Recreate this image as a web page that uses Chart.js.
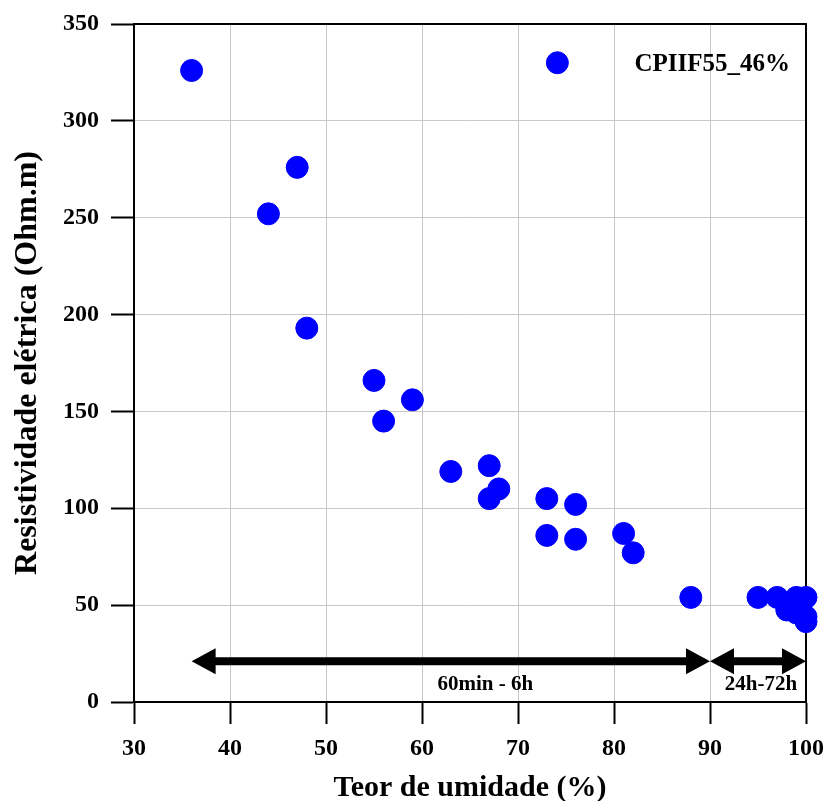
<!DOCTYPE html>
<html>
<head>
<meta charset="utf-8">
<script src="https://cdn.jsdelivr.net/npm/chart.js@4/dist/chart.umd.min.js"></script>
<style>
  html, body { margin: 0; padding: 0; background: #fff; }
  #wrap { width: 826px; height: 801px; }
</style>
</head>
<body>
<div id="wrap"><canvas id="chart"></canvas></div>
<script>
// moisture content (%) vs electrical resistivity (Ohm.m)
const seriesLabel = "CPIIF55_46%";
const moisture = [36, 74.1, 47, 44, 48, 55, 59, 56, 63, 67, 68, 67, 73, 76, 73, 76, 81, 82, 88,
    95, 97, 99, 100, 98, 99, 100, 100];
const resistivity = [326, 330, 276, 252, 193, 166, 156, 145, 119, 122, 110, 105, 105, 102, 86, 84, 87, 77, 54,
    54, 54, 54, 54, 47.5, 46, 44, 41.5];

// curing time ranges shown as arrows under the points
const rangeStart = [36, 90];
const rangeEnd = [90, 100];
const rangeLabels = ["60min - 6h", "24h-72h"];
const rangeLabelX = [66.6, 95.3];
const arrowLevel = 21;
const labelLevel = 9;

const serif = "'Liberation Serif', 'Times New Roman', serif";

const points = moisture.map((x, i) => ({ x: x, y: resistivity[i] }));

function arrowHead(ctx, tipX, y, dir) {
    ctx.beginPath();
    ctx.moveTo(tipX, y);
    ctx.lineTo(tipX + dir * 24, y - 13);
    ctx.lineTo(tipX + dir * 24, y + 13);
    ctx.closePath();
    ctx.fill();
}

const extras = {
    id: "extras",
    beforeDatasetsDraw(chart) {
        const ctx = chart.ctx;
        const area = chart.chartArea;
        // frame on top and right
        ctx.save();
        ctx.strokeStyle = "#000";
        ctx.lineWidth = 2;
        ctx.beginPath();
        ctx.moveTo(area.left, area.top);
        ctx.lineTo(area.right, area.top);
        ctx.lineTo(area.right, area.bottom);
        ctx.stroke();
        ctx.restore();
    },
    afterDatasetsDraw(chart) {
        const ctx = chart.ctx;
        const xs = chart.scales.x;
        const ys = chart.scales.y;
        const area = chart.chartArea;
        ctx.save();

        // arrows
        ctx.fillStyle = "#000";
        ctx.strokeStyle = "#000";
        ctx.lineWidth = 8;
        const ay = ys.getPixelForValue(arrowLevel);
        rangeStart.forEach((s, i) => {
            const x1 = xs.getPixelForValue(s);
            const x2 = xs.getPixelForValue(rangeEnd[i]);
            ctx.beginPath();
            ctx.moveTo(x1 + 20, ay);
            ctx.lineTo(x2 - 20, ay);
            ctx.stroke();
            arrowHead(ctx, x1, ay, 1);
            arrowHead(ctx, x2, ay, -1);
        });

        ctx.font = "bold 21px " + serif;
        ctx.textAlign = "center";
        ctx.textBaseline = "middle";
        rangeLabels.forEach((t, i) => {
            ctx.fillText(t, xs.getPixelForValue(rangeLabelX[i]), ys.getPixelForValue(labelLevel));
        });

        // series name
        ctx.font = "bold 25px " + serif;
        ctx.textAlign = "right";
        ctx.fillText(chart.data.datasets[0].label, area.right - 16, area.top + 41);
        ctx.restore();
    }
};

new Chart("chart", {
    type: "scatter",
    data: {
        datasets: [
            {
                label: seriesLabel,
                data: points,
                backgroundColor: "#0000ff",
                borderColor: "#0000ff",
                borderWidth: 1,
                pointRadius: 11,
                pointHoverRadius: 11,
                clip: false,
            },
        ],
    },
    options: {
        responsive: true,
        maintainAspectRatio: false,
        animation: false,
        layout: { padding: { top: 24, right: 20, left: 0, bottom: 0 } },
        plugins: {
            legend: { display: false },
            tooltip: { enabled: false },
        },
        scales: {
            x: {
                type: "linear",
                min: 30,
                max: 100,
                afterFit: (s) => {
                    s.height = 99;
                    s.paddingLeft = 0;
                    s.paddingRight = 0;
                },
                ticks: {
                    stepSize: 10,
                    padding: 10,
                    color: "#000",
                    font: { family: serif, size: 24, weight: "bold" },
                },
                grid: { color: "#c8c8c8", tickColor: "#000", tickLength: 22, tickWidth: 2 },
                border: { color: "#000", width: 2 },
                title: {
                    display: true,
                    text: "Teor de umidade (%)",
                    color: "#000",
                    padding: { top: 0, bottom: -5 },
                    font: { family: serif, size: 30, weight: "bold" },
                },
            },
            y: {
                min: 0,
                max: 350,
                afterFit: (s) => {
                    s.width = 134;
                    s.paddingTop = 0;
                    s.paddingBottom = 0;
                },
                ticks: {
                    stepSize: 50,
                    padding: 12,
                    color: "#000",
                    font: { family: serif, size: 24, weight: "bold" },
                },
                grid: { color: "#c8c8c8", tickColor: "#000", tickLength: 23, tickWidth: 2 },
                border: { color: "#000", width: 2 },
                title: {
                    display: true,
                    text: "Resistividade elétrica (Ohm.m)",
                    color: "#000",
                    padding: { top: 9, bottom: 0 },
                    font: { family: serif, size: 32, weight: "bold" },
                },
            },
        },
    },
    plugins: [extras],
});
</script>
</body>
</html>
